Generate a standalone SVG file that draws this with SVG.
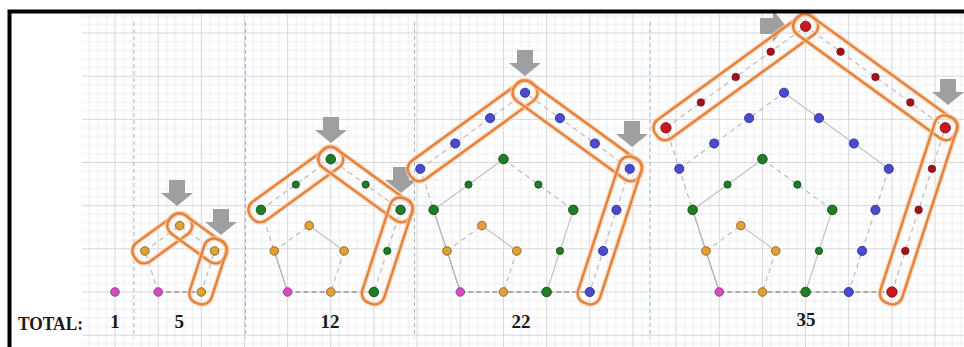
<svg xmlns="http://www.w3.org/2000/svg" xmlns:xlink="http://www.w3.org/1999/xlink" width="964" height="347" viewBox="0 0 964 347">
<defs>
<pattern id="grid" patternUnits="userSpaceOnUse" x="114.5" y="291.5" width="43.16" height="43.16">
<path d="M9.13 0V43.16M17.76 0V43.16M26.4 0V43.16M35.03 0V43.16M0 9.13H43.16M0 17.76H43.16M0 26.4H43.16M0 35.03H43.16" stroke="#eceef2" stroke-width="1" fill="none"/>
<path d="M0.5 0V43.16M0 0.5H43.16" stroke="#d4d7dc" stroke-width="1" fill="none"/>
</pattern>
<path id="arrow" d="M-8 -26H8V-13H16L0 0L-16 -13H-8Z"/>
<style>
.sep{stroke:#a9b3c9;stroke-width:1;stroke-dasharray:4 3;fill:none}
.base{stroke:#6e6e6e;stroke-width:1.2;stroke-dasharray:5 3;fill:none}
.sol{stroke:#c2c2c2;stroke-width:1.2;fill:none}
.ll{stroke:#a8a8a8;stroke-width:1.2;fill:none}
.dsh{stroke:#bcbcbc;stroke-width:1.2;stroke-dasharray:5 4;fill:none}
.cap{fill:none;stroke:#e4813a;stroke-width:2.4}
.halo{fill:none;stroke:#f6cfae;stroke-width:5;opacity:.7}
.arr{fill:#9f9f9f}
.pk{fill:#d24dc4;stroke:#8a2a7e;stroke-width:.8}
.or{fill:#e2a137;stroke:#7a5312;stroke-width:.8}
.gr{fill:#1f7d24;stroke:#0c4410;stroke-width:.8}
.bl{fill:#4b4bcf;stroke:#25258a;stroke-width:.8}
.rd{fill:#c9171f;stroke:#7a0a0e;stroke-width:.8}
.rdm{fill:#a3121a;stroke:#6a080c;stroke-width:.6}
.lbl{font-family:"Liberation Serif","DejaVu Serif",serif;font-weight:bold;font-size:19px;fill:#1a1a1a}
</style>
</defs>
<rect width="964" height="347" fill="#ffffff"/>
<rect x="82" y="14" width="882" height="333" fill="url(#grid)"/>
<g id="separators">
<path class="sep" d="M134 22V338M245.5 22V338M414.5 22V338M650 22V338"/>
</g>
<g id="connectors">
<g transform="translate(158.2,292)">
<path class="base" d="M0 0H43.16"/>
<path class="dsh" d="M0 0L-13.34 -41.05"/>
<path class="dsh" d="M-13.34 -41.05L21.58 -66.42L56.5 -41.05L43.16 0"/>
</g>
<g transform="translate(287.6,292)">
<path class="base" d="M0 0H86.32"/>
<path class="ll" d="M0 0L-13.34 -41.05"/>
<path class="dsh" d="M0 0L-26.67 -82.1"/>
<path class="dsh" d="M-13.34 -41.05L21.58 -66.42M56.5 -41.05L43.16 0"/>
<path class="sol" d="M21.58 -66.42L56.5 -41.05"/>
<path class="dsh" d="M-26.67 -82.1L43.16 -132.84L113 -82.1L86.32 0"/>
</g>
<g transform="translate(460.3,292)">
<path class="base" d="M0 0H129.48"/>
<path class="ll" d="M0 0L-13.34 -41.05M0 0L-26.67 -82.1"/>
<path class="dsh" d="M0 0L-40.01 -123.14"/>
<path class="dsh" d="M-13.34 -41.05L21.58 -66.42M56.5 -41.05L43.16 0"/>
<path class="sol" d="M21.58 -66.42L56.5 -41.05"/>
<path class="sol" d="M-26.67 -82.1L43.16 -132.84M113 -82.1L86.32 0"/>
<path class="dsh" d="M43.16 -132.84L113 -82.1"/>
<path class="dsh" d="M-40.01 -123.14L64.74 -199.25L169.49 -123.14L129.48 0"/>
</g>
<g transform="translate(719.3,292)">
<path class="base" d="M0 0H172.64"/>
<path class="ll" d="M0 0L-13.34 -41.05M0 0L-26.67 -82.1"/>
<path class="dsh" d="M0 0L-40.01 -123.14M0 0L-53.35 -164.19"/>
<path class="dsh" d="M-13.34 -41.05L21.58 -66.42M56.5 -41.05L43.16 0"/>
<path class="sol" d="M21.58 -66.42L56.5 -41.05"/>
<path class="sol" d="M-26.67 -82.1L43.16 -132.84M113 -82.1L86.32 0"/>
<path class="dsh" d="M43.16 -132.84L113 -82.1"/>
<path class="dsh" d="M-40.01 -123.14L64.74 -199.25M169.49 -123.14L129.48 0"/>
<path class="sol" d="M64.74 -199.25L169.49 -123.14"/>
<path class="dsh" d="M-53.35 -164.19L86.32 -265.67L225.99 -164.19L172.64 0"/>
</g>
</g>
<g id="fig-1" transform="translate(115,292)">
<circle class="pk" cx="0" cy="0" r="4.3"/>
<text class="lbl" x="0" y="36" text-anchor="middle">1</text>
</g>
<g id="fig-2" transform="translate(158.2,292)">
<use href="#arrow" class="arr" transform="translate(18.8,-86)"/>
<use href="#arrow" class="arr" transform="translate(62.8,-57)"/>
<g transform="translate(4.12,-53.735) rotate(-36)"><rect class="halo" x="-33.58" y="-11.5" width="67.16" height="23" rx="10"/><rect class="cap" x="-33.58" y="-11.5" width="67.16" height="23" rx="10"/></g>
<g transform="translate(39.04,-53.735) rotate(36)"><rect class="halo" x="-33.58" y="-11.5" width="67.16" height="23" rx="10"/><rect class="cap" x="-33.58" y="-11.5" width="67.16" height="23" rx="10"/></g>
<g transform="translate(49.83,-20.525) rotate(-72)"><rect class="halo" x="-33.58" y="-11.5" width="67.16" height="23" rx="10"/><rect class="cap" x="-33.58" y="-11.5" width="67.16" height="23" rx="10"/></g>
<circle class="pk" cx="0" cy="0" r="4.3"/>
<circle class="or" cx="43.16" cy="0" r="4.3"/>
<circle class="or" cx="56.5" cy="-41.05" r="4.3"/>
<circle class="or" cx="21.58" cy="-66.42" r="4.3"/>
<circle class="or" cx="-13.34" cy="-41.05" r="4.3"/>
<text class="lbl" x="21" y="36" text-anchor="middle">5</text>
</g>
<g id="fig-3" transform="translate(287.6,292)">
<use href="#arrow" class="arr" transform="translate(43.4,-149)"/>
<use href="#arrow" class="arr" transform="translate(113.4,-99)"/>
<g transform="translate(8.245,-107.47) rotate(-36)"><rect class="halo" x="-55.16" y="-11.5" width="110.32" height="23" rx="10"/><rect class="cap" x="-55.16" y="-11.5" width="110.32" height="23" rx="10"/></g>
<g transform="translate(78.08,-107.47) rotate(36)"><rect class="halo" x="-55.16" y="-11.5" width="110.32" height="23" rx="10"/><rect class="cap" x="-55.16" y="-11.5" width="110.32" height="23" rx="10"/></g>
<g transform="translate(99.66,-41.05) rotate(-72)"><rect class="halo" x="-55.16" y="-11.5" width="110.32" height="23" rx="10"/><rect class="cap" x="-55.16" y="-11.5" width="110.32" height="23" rx="10"/></g>
<circle class="pk" cx="0" cy="0" r="4.3"/>
<circle class="or" cx="43.16" cy="0" r="4.3"/>
<circle class="or" cx="56.5" cy="-41.05" r="4.3"/>
<circle class="or" cx="21.58" cy="-66.42" r="4.3"/>
<circle class="or" cx="-13.34" cy="-41.05" r="4.3"/>
<circle class="gr" cx="86.32" cy="0" r="4.8"/>
<circle class="gr" cx="99.66" cy="-41.05" r="3.6"/>
<circle class="gr" cx="113" cy="-82.1" r="4.8"/>
<circle class="gr" cx="78.08" cy="-107.47" r="3.6"/>
<circle class="gr" cx="43.16" cy="-132.84" r="4.8"/>
<circle class="gr" cx="8.24" cy="-107.47" r="3.6"/>
<circle class="gr" cx="-26.67" cy="-82.1" r="4.8"/>
<text class="lbl" x="42.4" y="36" text-anchor="middle">12</text>
</g>
<g id="fig-4" transform="translate(460.3,292)">
<use href="#arrow" class="arr" transform="translate(64.7,-216)"/>
<use href="#arrow" class="arr" transform="translate(171.7,-145)"/>
<g transform="translate(12.365,-161.195) rotate(-36)"><rect class="halo" x="-76.74" y="-11.5" width="153.48" height="23" rx="10"/><rect class="cap" x="-76.74" y="-11.5" width="153.48" height="23" rx="10"/></g>
<g transform="translate(117.115,-161.195) rotate(36)"><rect class="halo" x="-76.74" y="-11.5" width="153.48" height="23" rx="10"/><rect class="cap" x="-76.74" y="-11.5" width="153.48" height="23" rx="10"/></g>
<g transform="translate(149.485,-61.57) rotate(-72)"><rect class="halo" x="-76.74" y="-11.5" width="153.48" height="23" rx="10"/><rect class="cap" x="-76.74" y="-11.5" width="153.48" height="23" rx="10"/></g>
<circle class="pk" cx="0" cy="0" r="4.3"/>
<circle class="or" cx="43.16" cy="0" r="4.3"/>
<circle class="or" cx="56.5" cy="-41.05" r="4.3"/>
<circle class="or" cx="21.58" cy="-66.42" r="4.3"/>
<circle class="or" cx="-13.34" cy="-41.05" r="4.3"/>
<circle class="gr" cx="86.32" cy="0" r="4.8"/>
<circle class="gr" cx="99.66" cy="-41.05" r="3.6"/>
<circle class="gr" cx="113" cy="-82.1" r="4.8"/>
<circle class="gr" cx="78.08" cy="-107.47" r="3.6"/>
<circle class="gr" cx="43.16" cy="-132.84" r="4.8"/>
<circle class="gr" cx="8.24" cy="-107.47" r="3.6"/>
<circle class="gr" cx="-26.67" cy="-82.1" r="4.8"/>
<circle class="bl" cx="129.48" cy="0" r="4.6"/>
<circle class="bl" cx="142.82" cy="-41.05" r="4.6"/>
<circle class="bl" cx="156.15" cy="-82.1" r="4.6"/>
<circle class="bl" cx="169.49" cy="-123.14" r="4.6"/>
<circle class="bl" cx="134.57" cy="-148.51" r="4.6"/>
<circle class="bl" cx="99.66" cy="-173.88" r="4.6"/>
<circle class="bl" cx="64.74" cy="-199.25" r="4.6"/>
<circle class="bl" cx="29.82" cy="-173.88" r="4.6"/>
<circle class="bl" cx="-5.1" cy="-148.51" r="4.6"/>
<circle class="bl" cx="-40.01" cy="-123.14" r="4.6"/>
<text class="lbl" x="60.7" y="36" text-anchor="middle">22</text>
</g>
<g id="fig-5" transform="translate(719.3,292)">
<use href="#arrow" class="arr" transform="translate(66.7,-266) rotate(-90)"/>
<use href="#arrow" class="arr" transform="translate(228.7,-187)"/>
<g transform="translate(16.485,-214.93) rotate(-36)"><rect class="halo" x="-98.32" y="-11.5" width="196.64" height="23" rx="10"/><rect class="cap" x="-98.32" y="-11.5" width="196.64" height="23" rx="10"/></g>
<g transform="translate(156.155,-214.93) rotate(36)"><rect class="halo" x="-98.32" y="-11.5" width="196.64" height="23" rx="10"/><rect class="cap" x="-98.32" y="-11.5" width="196.64" height="23" rx="10"/></g>
<g transform="translate(199.315,-82.095) rotate(-72)"><rect class="halo" x="-98.32" y="-11.5" width="196.64" height="23" rx="10"/><rect class="cap" x="-98.32" y="-11.5" width="196.64" height="23" rx="10"/></g>
<circle class="pk" cx="0" cy="0" r="4.3"/>
<circle class="or" cx="43.16" cy="0" r="4.3"/>
<circle class="or" cx="56.5" cy="-41.05" r="4.3"/>
<circle class="or" cx="21.58" cy="-66.42" r="4.3"/>
<circle class="or" cx="-13.34" cy="-41.05" r="4.3"/>
<circle class="gr" cx="86.32" cy="0" r="4.8"/>
<circle class="gr" cx="99.66" cy="-41.05" r="3.6"/>
<circle class="gr" cx="113" cy="-82.1" r="4.8"/>
<circle class="gr" cx="78.08" cy="-107.47" r="3.6"/>
<circle class="gr" cx="43.16" cy="-132.84" r="4.8"/>
<circle class="gr" cx="8.24" cy="-107.47" r="3.6"/>
<circle class="gr" cx="-26.67" cy="-82.1" r="4.8"/>
<circle class="bl" cx="129.48" cy="0" r="4.6"/>
<circle class="bl" cx="142.82" cy="-41.05" r="4.6"/>
<circle class="bl" cx="156.15" cy="-82.1" r="4.6"/>
<circle class="bl" cx="169.49" cy="-123.14" r="4.6"/>
<circle class="bl" cx="134.57" cy="-148.51" r="4.6"/>
<circle class="bl" cx="99.66" cy="-173.88" r="4.6"/>
<circle class="bl" cx="64.74" cy="-199.25" r="4.6"/>
<circle class="bl" cx="29.82" cy="-173.88" r="4.6"/>
<circle class="bl" cx="-5.1" cy="-148.51" r="4.6"/>
<circle class="bl" cx="-40.01" cy="-123.14" r="4.6"/>
<circle class="rd" cx="172.64" cy="0" r="5.2"/>
<circle class="rdm" cx="185.98" cy="-41.05" r="3.8"/>
<circle class="rdm" cx="199.31" cy="-82.1" r="3.8"/>
<circle class="rdm" cx="212.65" cy="-123.14" r="3.8"/>
<circle class="rd" cx="225.99" cy="-164.19" r="5.2"/>
<circle class="rdm" cx="191.07" cy="-189.56" r="3.8"/>
<circle class="rdm" cx="156.15" cy="-214.93" r="3.8"/>
<circle class="rdm" cx="121.24" cy="-240.3" r="3.8"/>
<circle class="rd" cx="86.32" cy="-265.67" r="5.2"/>
<circle class="rdm" cx="51.4" cy="-240.3" r="3.8"/>
<circle class="rdm" cx="16.48" cy="-214.93" r="3.8"/>
<circle class="rdm" cx="-18.43" cy="-189.56" r="3.8"/>
<circle class="rd" cx="-53.35" cy="-164.19" r="5.2"/>
<text class="lbl" x="86.7" y="34" text-anchor="middle">35</text>
</g>
<g id="total-label">
<text class="lbl" x="18" y="330" textLength="65" lengthAdjust="spacingAndGlyphs">TOTAL:</text>
</g>
<rect x="0" y="0" width="964" height="9.5" fill="#ffffff"/>
<path d="M9.5 347V11.5H964" fill="none" stroke="#000000" stroke-width="4"/>
</svg>
